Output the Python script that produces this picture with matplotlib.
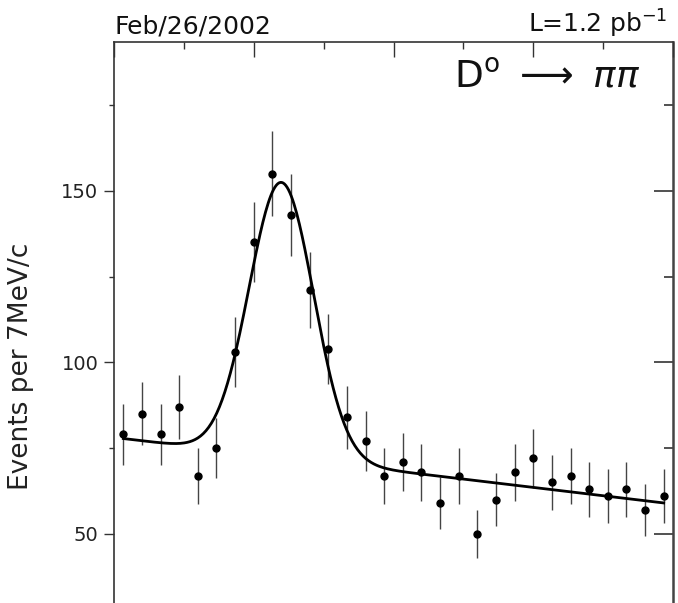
import numpy as np
import matplotlib
matplotlib.use("Agg")
from matplotlib import pyplot as plt
from matplotlib.ticker import MultipleLocator, FixedLocator

# counts per 7 MeV bin
counts = [79, 85, 79, 87, 67, 75, 103, 135, 155, 143,
          121, 104, 84, 77, 67, 71, 68, 59, 67, 50,
          60, 68, 72, 65, 67, 63, 61, 63, 57, 61]
bin_width = 0.007
x_lo, x_hi = 1.80, 2.01

# fit: gaussian + linear background
g_amp = 80.1
g_mean = 1.8629
g_sigma = 0.0121
bg_0 = 77.8
bg_slope = -92.4

counts = np.array(counts, dtype=float)
x = x_lo + bin_width * (np.arange(len(counts)) + 0.5)
err = np.sqrt(counts)

xf = np.linspace(x[0], x[-1], 400)
yf = g_amp * np.exp(-0.5 * ((xf - g_mean) / g_sigma) ** 2) + bg_0 + bg_slope * (xf - x[0])

fig = plt.figure(figsize=(6.78, 6.03), dpi=100)
ax = fig.add_axes([114 / 678, 0, 559 / 678, 561.5 / 603])

ax.errorbar(x, counts, yerr=err, fmt='o', ms=5, color='black',
            ecolor='#444444', elinewidth=1.0, capsize=0, zorder=3)
ax.plot(xf, yf, color='black', lw=2.0, zorder=4)

ax.set_xlim(x_lo, x_hi)
ax.set_ylim(29.9, 193.45)

edge = '#333333'
for s in ax.spines.values():
    s.set_color(edge)
    s.set_linewidth(1.2)
ax.spines['bottom'].set_visible(False)
ax.spines['right'].set_visible(False)

ax.xaxis.set_ticks_position('top')
ax.xaxis.set_major_locator(FixedLocator(np.linspace(x_lo, x_hi, 5)))
ax.xaxis.set_minor_locator(FixedLocator(np.linspace(x_lo, x_hi, 9)))
ax.tick_params(axis='x', which='major', direction='in', length=10.8, width=1.0,
               color=edge, labeltop=False, labelbottom=False)
ax.tick_params(axis='x', which='minor', direction='in', length=5, width=1.0, color=edge)

ax.yaxis.set_major_locator(MultipleLocator(50))
ax.yaxis.set_minor_locator(MultipleLocator(25))
ax.tick_params(axis='y', which='major', direction='out', length=7.2, width=1.0,
               color=edge, labelsize=14, labelcolor='#222222', pad=4)
ax.tick_params(axis='y', which='minor', direction='out', length=3.6, width=1.0, color=edge)

right = ax.secondary_yaxis('right')
right.spines['right'].set_color('#444444')
right.spines['right'].set_linewidth(1.8)
right.yaxis.set_major_locator(MultipleLocator(50))
right.yaxis.set_minor_locator(MultipleLocator(25))
right.tick_params(which='major', direction='in', length=13.7, width=1.2, color=edge, labelright=False)
right.tick_params(which='minor', direction='in', length=6.5, width=1.2, color=edge)

fig.text(114 / 678, 1 - 33 / 603, 'Feb/26/2002', ha='left', va='baseline', fontsize=18, color='#111111')
fig.text(667 / 678, 1 - 33 / 603, 'L=1.2 pb$^{-1}$', ha='right', va='baseline', fontsize=18, color='#111111')
fig.text(454 / 678, 1 - 88 / 603, r'D$^{\rm o}$ $\longrightarrow$ $\pi\pi$', ha='left', va='baseline',
         fontsize=27, color='#111111')
fig.text(21 / 678, 1 - 366 / 603, 'Events per 7MeV/c', rotation=90, ha='center', va='center',
         fontsize=19, color='#222222')

fig.savefig('out.png', dpi=100)
